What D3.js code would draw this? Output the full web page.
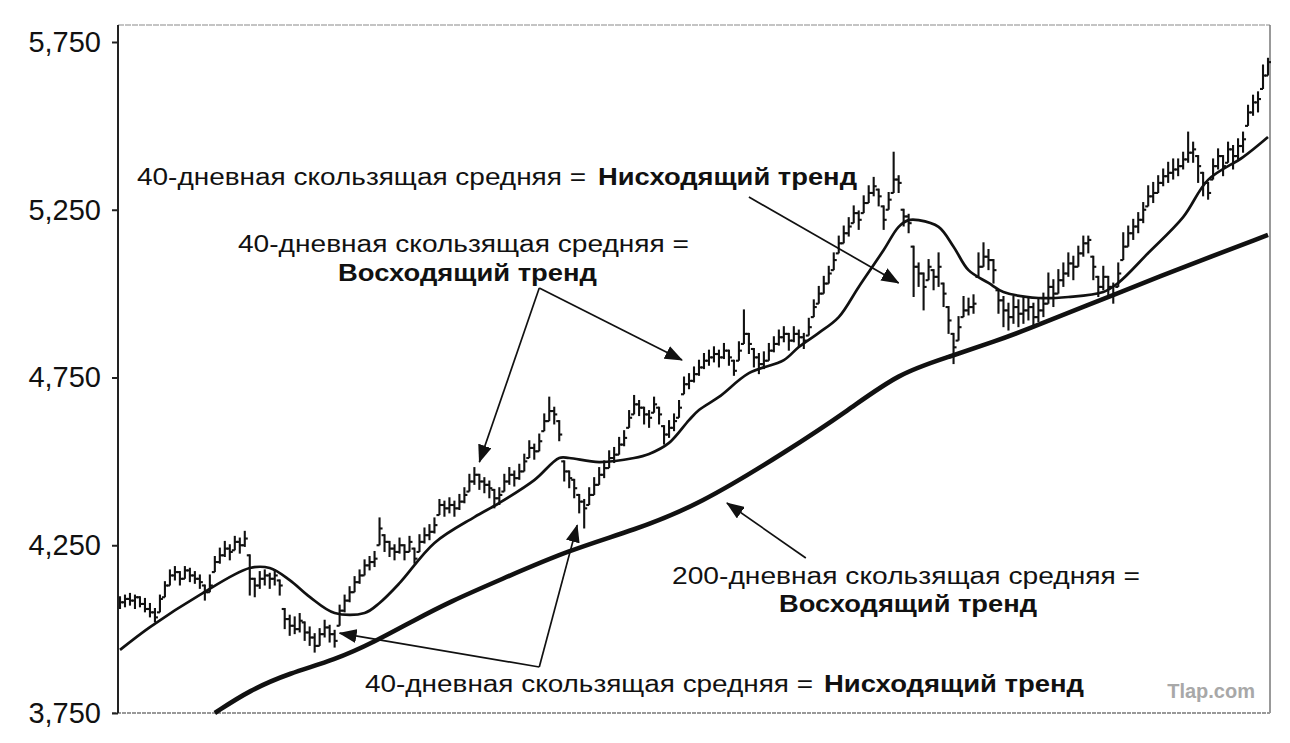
<!DOCTYPE html>
<meta charset="utf-8">
<script src="https://d3js.org/d3.v7.min.js"></script>
<html>
<head>
<style>
body { margin: 0; background: #fff; }
text { font-family: "Liberation Sans", Arial, sans-serif; fill: #111; }
</style>
</head>
<body>
<svg id="chart" width="1290" height="743"></svg>
<script>

// y axis ticks
var yTicks = [3750, 4250, 4750, 5250, 5750];

// daily price bars: [low, high, close]
var bars = [
  [4060,4095,4080],[4065,4100,4090],[4070,4105,4085],[4060,4100,4095],[4065,4095,4075],
  [4050,4090,4060],[4035,4075,4050],[4020,4060,4035],[4050,4100,4090],[4095,4140,4130],
  [4130,4175,4160],[4145,4185,4170],[4130,4170,4150],[4150,4185,4175],[4140,4180,4160],
  [4135,4170,4150],[4120,4160,4140],[4085,4130,4110],[4110,4160,4130],[4170,4215,4200],
  [4195,4240,4220],[4215,4260,4240],[4205,4250,4230],[4235,4275,4260],[4225,4270,4250],
  [4245,4290,4270],[4100,4220,4150],[4095,4150,4130],[4120,4170,4150],[4130,4175,4160],
  [4120,4165,4150],[4130,4175,4160],[4100,4145,4130],[4000,4060,4030],[3980,4040,4010],
  [3985,4035,4000],[3990,4045,4025],[3965,4020,3990],[3950,4005,3975],[3930,3985,3950],
  [3950,4000,3985],[3975,4025,4005],[3960,4010,3985],[3945,3995,3965],[4010,4070,4055],
  [4050,4100,4085],[4080,4125,4110],[4110,4155,4140],[4135,4175,4160],[4160,4205,4190],
  [4175,4215,4200],[4185,4230,4210],[4250,4330,4300],[4230,4280,4260],[4215,4260,4240],
  [4205,4250,4230],[4225,4270,4250],[4205,4250,4230],[4230,4275,4260],[4195,4240,4210],
  [4230,4280,4260],[4255,4300,4280],[4265,4310,4290],[4285,4330,4310],[4340,4385,4370],
  [4335,4380,4360],[4345,4390,4370],[4335,4380,4360],[4355,4400,4380],[4375,4420,4400],
  [4410,4460,4440],[4430,4480,4460],[4415,4460,4440],[4405,4450,4430],[4390,4440,4420],
  [4360,4415,4390],[4370,4420,4400],[4410,4460,4440],[4430,4480,4460],[4425,4470,4450],
  [4445,4490,4470],[4470,4520,4500],[4510,4560,4540],[4505,4550,4530],[4530,4580,4560],
  [4590,4640,4620],[4620,4690,4650],[4610,4660,4640],[4560,4620,4580],[4440,4500,4470],
  [4420,4470,4450],[4390,4445,4420],[4345,4400,4380],[4300,4385,4360],[4370,4420,4400],
  [4400,4450,4430],[4430,4480,4460],[4450,4500,4480],[4480,4530,4510],[4495,4540,4520],
  [4520,4570,4550],[4545,4590,4570],[4600,4650,4630],[4640,4695,4670],[4635,4680,4660],
  [4610,4660,4640],[4600,4650,4630],[4645,4690,4670],[4610,4660,4640],[4550,4605,4580],
  [4570,4620,4600],[4590,4640,4620],[4630,4680,4660],[4700,4750,4730],[4715,4760,4740],
  [4735,4780,4760],[4755,4800,4780],[4775,4820,4800],[4785,4830,4810],[4795,4840,4820],
  [4780,4830,4810],[4805,4850,4830],[4785,4830,4810],[4755,4800,4770],[4800,4855,4830],
  [4850,4950,4880],[4820,4880,4850],[4780,4835,4810],[4760,4820,4790],[4775,4825,4800],
  [4800,4850,4830],[4825,4870,4850],[4845,4890,4870],[4855,4900,4880],[4830,4880,4860],
  [4855,4900,4880],[4840,4890,4870],[4835,4880,4860],[4875,4925,4900],[4930,4980,4960],
  [4970,5020,5000],[5000,5050,5030],[5030,5080,5060],[5070,5120,5100],[5120,5170,5150],
  [5150,5200,5180],[5170,5225,5200],[5210,5260,5240],[5190,5245,5220],[5240,5290,5270],
  [5270,5320,5300],[5290,5345,5320],[5260,5310,5290],[5190,5260,5220],[5250,5300,5280],
  [5300,5420,5340],[5300,5350,5330],[5200,5250,5230],[5180,5235,5210],[4990,5140,5080],
  [5020,5090,5060],[4950,5060,5020],[5040,5100,5080],[5010,5070,5050],[5020,5120,5080],
  [4960,5030,5000],[4880,4960,4920],[4790,4880,4840],[4860,4930,4900],[4930,4990,4950],
  [4935,4985,4960],[4940,4995,4970],[5050,5120,5080],[5080,5150,5110],[5070,5130,5100],
  [5030,5100,5070],[4940,5010,4980],[4900,4990,4950],[4890,4970,4930],[4910,4990,4960],
  [4900,4980,4940],[4910,4990,4950],[4920,4990,4960],[4900,4970,4930],[4915,4985,4950],
  [4930,5000,4970],[4970,5060,5020],[4960,5040,5000],[5000,5070,5040],[5020,5090,5060],
  [5050,5120,5090],[5040,5110,5080],[5080,5140,5120],[5110,5170,5150],[5120,5170,5160],
  [5040,5110,5080],[4990,5050,5020],[5010,5080,5050],[4990,5050,5020],[4970,5030,5000],
  [5020,5090,5060],[5100,5180,5140],[5140,5200,5180],[5160,5220,5200],[5180,5240,5220],
  [5210,5270,5250],[5260,5320,5290],[5270,5330,5300],[5300,5350,5330],[5320,5370,5350],
  [5330,5390,5360],[5340,5400,5370],[5350,5400,5380],[5370,5420,5400],[5390,5480,5420],
  [5390,5450,5430],[5330,5410,5380],[5290,5360,5330],[5280,5330,5300],[5340,5400,5380],
  [5370,5430,5410],[5350,5410,5380],[5390,5450,5430],[5370,5440,5410],[5400,5460,5440],
  [5420,5480,5460],[5500,5560,5540],[5530,5590,5570],[5540,5600,5580],[5610,5680,5650],
  [5650,5700,5690]
];

// 40-day moving average, read at some days
var ma40Days = [0, 6, 16, 26, 30, 34, 38, 43, 49, 52, 56, 63, 71, 76, 83, 88, 90, 96, 103, 106,
  110, 114, 116, 120, 126, 133, 136, 140, 144, 148, 153, 156, 158, 160, 164, 167, 170, 174, 177,
  184, 190, 197, 200, 206, 213, 218, 225, 230];
var ma40Vals = [3938, 4006, 4102, 4182, 4182, 4146, 4096, 4048, 4048, 4078, 4137, 4257, 4334, 4376,
  4444, 4510, 4510, 4498, 4510, 4522, 4555, 4623, 4653, 4692, 4763, 4802, 4841, 4883, 4930, 5020,
  5130, 5199, 5219, 5219, 5199, 5140, 5070, 5032, 5005, 4987, 4990, 5005, 5032, 5121, 5228, 5339,
  5407, 5467];

// 200-day moving average, read at some days
var ma200Days = [19, 26, 34, 43, 51, 59, 66, 76, 90, 103, 116, 134, 146, 156, 166, 176, 180, 200, 213, 230];
var ma200Vals = [3750, 3818, 3869, 3908, 3962, 4027, 4081, 4146, 4236, 4295, 4370, 4534, 4653, 4763,
  4811, 4862, 4883, 5002, 5079, 5175];

// annotation texts
var plainTexts = ["40-дневная скользящая средняя =", "40-дневная скользящая средняя =",
  "200-дневная скользящая средняя =", "40-дневная скользящая средняя ="];
var boldTexts = ["Нисходящий тренд", "Восходящий тренд", "Восходящий тренд", "Нисходящий тренд"];

// arrows: [fromDay, fromPrice, toDay, toPrice]
var pointers = [
  [126, 5288, 156, 5032],
  [84, 5017, 72, 4498],
  [84, 5017, 112.6, 4802],
  [84, 3887, 44, 3988],
  [84, 3887, 91.6, 4310],
  [137.4, 4212, 121.6, 4376]
];

var svg = d3.select("#chart");

var x = d3.scaleLinear().domain([0, 230]).range([120, 1268]);
var y = d3.scaleLinear().domain([3750, 5750]).range([713, 42]);

// frame
svg.append("line").attr("x1", 118).attr("x2", 1270).attr("y1", 25).attr("y2", 25)
  .attr("stroke", "#8a8a8a").attr("stroke-width", 1.2).attr("stroke-dasharray", "6,1");
svg.append("line").attr("x1", 1270).attr("x2", 1270).attr("y1", 25).attr("y2", 713)
  .attr("stroke", "#777").attr("stroke-width", 1.5);
svg.append("line").attr("x1", 112).attr("x2", 1270).attr("y1", 713).attr("y2", 713)
  .attr("stroke", "#999").attr("stroke-width", 1.8).attr("stroke-dasharray", "4,1");
svg.append("line").attr("x1", 118).attr("x2", 118).attr("y1", 25).attr("y2", 713)
  .attr("stroke", "#222").attr("stroke-width", 2);

// y axis
var yAxis = svg.append("g")
  .attr("transform", "translate(118,0)")
  .call(d3.axisLeft(y).tickValues(yTicks).tickFormat(d3.format(",")).tickSize(6).tickPadding(11));
yAxis.select(".domain").remove();
yAxis.selectAll(".tick line").attr("stroke", "#222").attr("stroke-width", 2);
yAxis.selectAll(".tick text")
  .attr("font-family", "Liberation Sans, Arial, sans-serif")
  .attr("font-size", 29).attr("fill", "#111");

// watermark
svg.append("text").attr("x", 1255).attr("y", 698).attr("text-anchor", "end")
  .attr("font-size", 20).attr("font-weight", "bold").style("fill", "#a8a8a8").text("Tlap.com");

// moving averages
var line40 = d3.line().curve(d3.curveCatmullRom.alpha(0.5))
  .x(function(d){ return x(d[0]); }).y(function(d){ return y(d[1]); });
var line200 = d3.line().curve(d3.curveBasis)
  .x(function(d){ return x(d[0]); }).y(function(d){ return y(d[1]); });

svg.append("path")
  .datum(ma40Days.map(function(d, i){ return [d, ma40Vals[i]]; }))
  .attr("d", line40).attr("fill", "none").attr("stroke", "#111").attr("stroke-width", 2.7);

svg.append("path")
  .datum(ma200Days.map(function(d, i){ return [d, ma200Vals[i]]; }))
  .attr("d", line200).attr("fill", "none").attr("stroke", "#111").attr("stroke-width", 4.6);

// price bars
var g = svg.append("g").attr("stroke", "#111").attr("stroke-width", 2.1);
g.selectAll(".hl").data(bars).enter().append("line")
  .attr("x1", function(d, i){ return x(i); }).attr("x2", function(d, i){ return x(i); })
  .attr("y1", function(d){ return y(d[0]); }).attr("y2", function(d){ return y(d[1]) - 1; });
g.selectAll(".cl").data(bars).enter().append("line")
  .attr("x1", function(d, i){ return x(i); }).attr("x2", function(d, i){ return x(i) + 3; })
  .attr("y1", function(d){ return y(d[2]); }).attr("y2", function(d){ return y(d[2]); });
g.selectAll(".op").data(bars.slice(1)).enter().append("line")
  .attr("x1", function(d, i){ return x(i + 1) - 3; }).attr("x2", function(d, i){ return x(i + 1); })
  .attr("y1", function(d, i){ return y(Math.min(Math.max(bars[i][2], d[0]), d[1])); })
  .attr("y2", function(d, i){ return y(Math.min(Math.max(bars[i][2], d[0]), d[1])); });

// arrows
svg.append("defs").append("marker")
  .attr("id", "head").attr("markerUnits", "userSpaceOnUse")
  .attr("markerWidth", 18).attr("markerHeight", 14)
  .attr("refX", 17).attr("refY", 7).attr("orient", "auto")
  .append("path").attr("d", "M0,0 L18,7 L0,14 Z").attr("fill", "#111");

svg.selectAll(".arrow").data(pointers).enter().append("line")
  .attr("x1", function(d){ return x(d[0]); }).attr("y1", function(d){ return y(d[1]); })
  .attr("x2", function(d){ return x(d[2]); }).attr("y2", function(d){ return y(d[3]); })
  .attr("stroke", "#111").attr("stroke-width", 1.7).attr("marker-end", "url(#head)");

// annotation layout: [x, baseline, width] for plain and bold parts
var plainPos = [[137, 185, 449], [238, 252, 451], [672, 584, 468], [365, 692, 448]];
var boldPos = [[598, 185, 259], [338, 281, 259], [779, 612, 258], [824, 692, 260]];

plainTexts.forEach(function(t, i){
  var p = plainPos[i];
  svg.append("text").attr("x", p[0]).attr("y", p[1]).attr("font-size", 23)
    .attr("textLength", p[2]).attr("lengthAdjust", "spacingAndGlyphs").text(t);
});
boldTexts.forEach(function(t, i){
  var p = boldPos[i];
  svg.append("text").attr("x", p[0]).attr("y", p[1]).attr("font-size", 23).attr("font-weight", "bold")
    .attr("textLength", p[2]).attr("lengthAdjust", "spacingAndGlyphs").text(t);
});

</script>
</body>
</html>
